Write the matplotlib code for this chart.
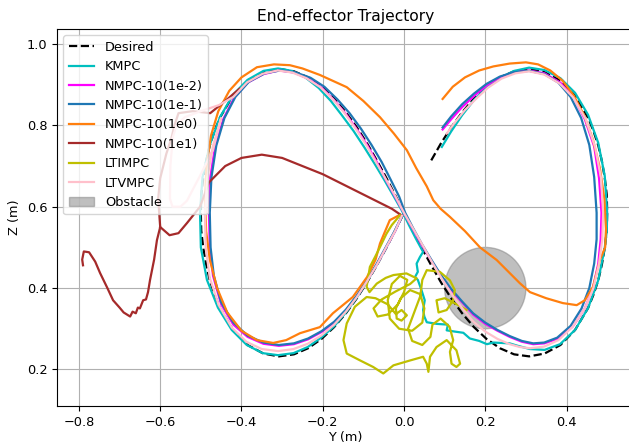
import matplotlib
matplotlib.use("Agg")
import matplotlib.pyplot as plt
from matplotlib.patches import Circle

plt.rcParams['font.size'] = 9.3

# desired figure-eight
des_y = [0.067, 0.091, 0.116, 0.143, 0.172, 0.203, 0.236, 0.271, 0.308, 0.346, 0.385, 0.421, 0.453, 0.466, 0.478,
         0.487, 0.494, 0.499, 0.500, 0.499, 0.494, 0.487, 0.478, 0.466, 0.453, 0.421, 0.385, 0.346, 0.308, 0.271,
         0.236, 0.203, 0.172, 0.143, 0.116, 0.091, 0.067, 0.044, 0.022, 0.000,
         -0.022, -0.044, -0.067, -0.091, -0.116, -0.143, -0.172, -0.203, -0.236, -0.271, -0.308, -0.346, -0.385,
         -0.421, -0.453, -0.466, -0.478, -0.487, -0.494, -0.499, -0.500, -0.499, -0.494, -0.487, -0.478, -0.466,
         -0.453, -0.421, -0.385, -0.346, -0.308, -0.271, -0.236, -0.203, -0.172, -0.143, -0.116, -0.091, -0.067,
         -0.044, -0.022, 0.000]
des_z = [0.714, 0.756, 0.795, 0.832, 0.866, 0.895, 0.918, 0.933, 0.939, 0.931, 0.910, 0.873, 0.819, 0.787, 0.751,
         0.712, 0.671, 0.629, 0.585, 0.541, 0.499, 0.458, 0.419, 0.383, 0.351, 0.297, 0.260, 0.239, 0.232, 0.237,
         0.252, 0.275, 0.304, 0.338, 0.375, 0.414, 0.456, 0.498, 0.541, 0.585,
         0.629, 0.672, 0.714, 0.756, 0.795, 0.832, 0.866, 0.895, 0.918, 0.933, 0.939, 0.931, 0.910,
         0.873, 0.819, 0.787, 0.751, 0.712, 0.671, 0.629, 0.585, 0.541, 0.499, 0.458, 0.419, 0.383,
         0.351, 0.297, 0.260, 0.239, 0.232, 0.237, 0.252, 0.275, 0.304, 0.338, 0.375, 0.414, 0.456,
         0.498, 0.541, 0.585]

kmpc_y = [0.093, 0.116, 0.143, 0.172, 0.203, 0.236, 0.271, 0.308, 0.346, 0.385, 0.421, 0.453, 0.478, 0.494, 0.500,
          0.499, 0.494, 0.478, 0.453, 0.421, 0.384, 0.346, 0.310, 0.280, 0.260, 0.220, 0.204, 0.185, 0.162, 0.146,
          0.125, 0.105, 0.108, 0.080, 0.056, 0.050, 0.047, 0.051, 0.043, 0.034, 0.027, 0.034, 0.031, 0.039, 0.047,
          0.030, 0.012, -0.005, -0.025, -0.048, -0.072, -0.097, -0.124, -0.153, -0.180, -0.210, -0.243, -0.276,
          -0.310, -0.346, -0.385, -0.421, -0.453, -0.478, -0.496, -0.502, -0.500, -0.485, -0.458, -0.424, -0.387,
          -0.348, -0.310, -0.272, -0.237, -0.204, -0.172, -0.143, -0.116, -0.091, -0.067, -0.044, -0.022, -0.003]
kmpc_z = [0.747, 0.785, 0.825, 0.862, 0.893, 0.917, 0.934, 0.942, 0.936, 0.916, 0.880, 0.826, 0.757, 0.676, 0.585,
          0.540, 0.499, 0.419, 0.351, 0.297, 0.262, 0.248, 0.250, 0.258, 0.264, 0.266, 0.262, 0.270, 0.276, 0.290,
          0.293, 0.296, 0.310, 0.312, 0.316, 0.330, 0.346, 0.370, 0.395, 0.420, 0.427, 0.440, 0.460, 0.476, 0.489,
          0.520, 0.555, 0.590, 0.625, 0.665, 0.705, 0.745, 0.786, 0.825, 0.860, 0.892, 0.918, 0.934,
          0.940, 0.934, 0.912, 0.875, 0.820, 0.752, 0.672, 0.585, 0.500, 0.420, 0.352, 0.297, 0.260,
          0.240, 0.235, 0.240, 0.255, 0.278, 0.306, 0.340, 0.377, 0.416, 0.457, 0.499, 0.541, 0.580]

n2_y = [0.095, 0.116, 0.143, 0.172, 0.203, 0.236, 0.271, 0.308, 0.346, 0.385, 0.418, 0.445, 0.468, 0.480, 0.486,
        0.484, 0.478, 0.465, 0.445, 0.415, 0.380, 0.345, 0.318, 0.290, 0.260, 0.230, 0.200, 0.170, 0.143, 0.116,
        0.091, 0.067, 0.044, 0.022, 0.000,
        -0.022, -0.044, -0.067, -0.091, -0.116, -0.143, -0.172, -0.203, -0.236, -0.271, -0.308, -0.346, -0.385,
        -0.418, -0.445, -0.465, -0.477, -0.480, -0.478, -0.470, -0.450, -0.420, -0.385, -0.346, -0.308, -0.271,
        -0.236, -0.203, -0.172, -0.143, -0.116, -0.091, -0.067, -0.044, -0.022, -0.005]
n2_z = [0.790, 0.815, 0.845, 0.872, 0.898, 0.918, 0.930, 0.935, 0.928, 0.905, 0.868, 0.815, 0.748, 0.670, 0.585,
        0.520, 0.460, 0.400, 0.350, 0.305, 0.276, 0.264, 0.262, 0.268, 0.280, 0.295, 0.312, 0.335, 0.365, 0.395,
        0.430, 0.468, 0.505, 0.545, 0.585,
        0.625, 0.665, 0.710, 0.752, 0.790, 0.828, 0.862, 0.893, 0.915, 0.930, 0.935, 0.926, 0.905,
        0.868, 0.815, 0.748, 0.670, 0.585, 0.500, 0.430, 0.360, 0.310, 0.280, 0.263, 0.258, 0.262,
        0.274, 0.292, 0.315, 0.345, 0.380, 0.418, 0.458, 0.500, 0.540, 0.578]

n1_y = [0.095, 0.116, 0.143, 0.172, 0.203, 0.236, 0.271, 0.308, 0.346, 0.380, 0.410, 0.436, 0.456, 0.468, 0.474,
        0.474, 0.468, 0.456, 0.437, 0.410, 0.377, 0.345, 0.318, 0.290, 0.260, 0.230, 0.200, 0.170, 0.143, 0.116,
        0.091, 0.067, 0.044, 0.022, 0.003,
        -0.012, -0.032, -0.055, -0.080, -0.106, -0.134, -0.164, -0.196, -0.230, -0.266, -0.305, -0.343, -0.382,
        -0.415, -0.442, -0.462, -0.474, -0.478, -0.476, -0.468, -0.450, -0.420, -0.385, -0.346, -0.308, -0.271,
        -0.236, -0.203, -0.172, -0.143, -0.116, -0.091, -0.067, -0.044, -0.022, -0.005]
n1_z = [0.795, 0.822, 0.852, 0.878, 0.902, 0.920, 0.931, 0.934, 0.926, 0.905, 0.870, 0.818, 0.752, 0.673, 0.585,
        0.520, 0.460, 0.400, 0.350, 0.307, 0.278, 0.266, 0.264, 0.270, 0.282, 0.297, 0.315, 0.338, 0.367, 0.398,
        0.432, 0.470, 0.508, 0.548, 0.585,
        0.625, 0.665, 0.710, 0.752, 0.792, 0.830, 0.864, 0.895, 0.917, 0.930, 0.935, 0.928, 0.907,
        0.870, 0.818, 0.750, 0.672, 0.585, 0.500, 0.430, 0.365, 0.315, 0.283, 0.266, 0.260, 0.264,
        0.276, 0.294, 0.317, 0.347, 0.382, 0.420, 0.460, 0.502, 0.542, 0.578]

n0_y = [0.095, 0.120, 0.150, 0.185, 0.220, 0.260, 0.300, 0.330, 0.360, 0.390, 0.418, 0.443, 0.465, 0.482, 0.493,
        0.497, 0.495, 0.482, 0.465, 0.445, 0.425, 0.391, 0.350, 0.310, 0.285, 0.260, 0.228, 0.187, 0.150, 0.113,
        0.090, 0.072, 0.056, 0.030, 0.007, -0.025, -0.059, -0.100, -0.141, -0.207, -0.250, -0.281, -0.320, -0.362,
        -0.400, -0.430, -0.457, -0.475, -0.486, -0.490, -0.487, -0.478, -0.460, -0.435, -0.400, -0.362, -0.322,
        -0.290, -0.256, -0.207, -0.175, -0.126, -0.091, -0.070, -0.059, -0.035, -0.010]
n0_z = [0.865, 0.895, 0.918, 0.935, 0.945, 0.952, 0.955, 0.950, 0.935, 0.910, 0.873, 0.825, 0.765, 0.695, 0.620,
        0.545, 0.500, 0.469, 0.403, 0.370, 0.358, 0.363, 0.375, 0.390, 0.412, 0.437, 0.469, 0.500, 0.540, 0.575,
        0.595, 0.616, 0.650, 0.695, 0.739, 0.780, 0.820, 0.860, 0.894, 0.924, 0.940, 0.948, 0.950, 0.943,
        0.918, 0.885, 0.835, 0.775, 0.700, 0.620, 0.540, 0.470, 0.400, 0.340, 0.295, 0.272, 0.265,
        0.272, 0.289, 0.304, 0.338, 0.378, 0.427, 0.470, 0.510, 0.567, 0.580]

# NMPC-10(1e1) has two visible pieces
n10a_y = [-0.790, -0.792, -0.788, -0.775, -0.760, -0.748, -0.730, -0.716, -0.700, -0.690, -0.674, -0.668, -0.660,
          -0.655, -0.650, -0.642, -0.635, -0.630, -0.625, -0.615, -0.608, -0.600, -0.605, -0.600, -0.585, -0.572,
          -0.565, -0.555, -0.520, -0.477, -0.440, -0.405]
n10a_z = [0.456, 0.470, 0.490, 0.488, 0.465, 0.437, 0.400, 0.370, 0.352, 0.340, 0.330, 0.342, 0.338,
          0.352, 0.350, 0.370, 0.372, 0.390, 0.420, 0.470, 0.518, 0.550, 0.620, 0.670, 0.730, 0.770,
          0.800, 0.830, 0.835, 0.830, 0.860, 0.890]
n10b_y = [-0.005, -0.030, -0.060, -0.100, -0.150, -0.200, -0.250, -0.300, -0.350, -0.400, -0.440, -0.480, -0.502,
          -0.534, -0.555, -0.577, -0.600]
n10b_z = [0.578, 0.595, 0.610, 0.630, 0.655, 0.680, 0.700, 0.720, 0.728, 0.720, 0.700, 0.660, 0.600,
          0.560, 0.535, 0.530, 0.550]

lti_y = [-0.010, -0.030, -0.043, -0.059, -0.071, -0.084, -0.088, -0.092, -0.085, -0.067, -0.045, -0.026, 0.006,
         0.031, 0.015, -0.020, -0.055, -0.075, -0.065, -0.040, -0.015, 0.000, 0.008, -0.010, -0.030, -0.040, -0.035,
         -0.012, 0.020, 0.045, 0.050, 0.040, 0.015, -0.008, -0.020, -0.018, -0.006, 0.007, -0.006, -0.020, -0.040,
         -0.070, -0.092, -0.121, -0.141, -0.149, -0.141, -0.108, -0.076, -0.051, -0.026, 0.015, 0.047, 0.056, 0.060,
         0.064, 0.080, 0.105, 0.129, 0.138, 0.129, 0.117, 0.113, 0.121, 0.112, 0.090, 0.070, 0.065, 0.045, 0.020,
         0.010, 0.025, 0.040, 0.045, 0.056, 0.088, 0.113, 0.125, 0.121, 0.105, 0.085, 0.080, 0.100, 0.130, 0.154]
lti_z = [0.579, 0.555, 0.534, 0.501, 0.477, 0.452, 0.427, 0.403, 0.390, 0.411, 0.425, 0.432, 0.436,
         0.424, 0.410, 0.392, 0.372, 0.350, 0.330, 0.335, 0.360, 0.390, 0.420, 0.430, 0.410, 0.370, 0.325,
         0.300, 0.295, 0.315, 0.350, 0.385, 0.395, 0.375, 0.350, 0.325, 0.320, 0.333, 0.346, 0.336, 0.360,
         0.375, 0.378, 0.354, 0.313, 0.272, 0.239, 0.222, 0.206, 0.190, 0.210, 0.222, 0.231, 0.214, 0.194,
         0.231, 0.255, 0.272, 0.247, 0.214, 0.206, 0.214, 0.243, 0.272, 0.305, 0.325, 0.310, 0.280, 0.260, 0.270,
         0.300, 0.340, 0.380, 0.420, 0.444, 0.440, 0.419, 0.395, 0.370, 0.346, 0.340, 0.370, 0.375, 0.360, 0.346]

ltv_y = [0.105, 0.125, 0.150, 0.178, 0.207, 0.240, 0.274, 0.308, 0.345, 0.383, 0.417, 0.447, 0.470, 0.485, 0.490,
         0.488, 0.480, 0.466, 0.445, 0.415, 0.380, 0.345, 0.310, 0.285, 0.260, 0.230, 0.200, 0.170, 0.145, 0.121,
         0.095, 0.070, 0.046, 0.023, 0.000,
         -0.022, -0.045, -0.069, -0.093, -0.119, -0.146, -0.175, -0.206, -0.240, -0.275, -0.311, -0.348, -0.386,
         -0.420, -0.455, -0.500, -0.540, -0.560, -0.569, -0.575, -0.576, -0.570, -0.550, -0.534, -0.500, -0.470,
         -0.450, -0.470, -0.484, -0.490, -0.488, -0.478, -0.456, -0.424, -0.388, -0.350, -0.310, -0.272, -0.237,
         -0.204, -0.172, -0.143, -0.116, -0.091, -0.067, -0.044, -0.022, -0.005]
ltv_z = [0.780, 0.807, 0.838, 0.866, 0.893, 0.915, 0.928, 0.933, 0.925, 0.903, 0.868, 0.815, 0.748, 0.670, 0.585,
         0.520, 0.460, 0.400, 0.350, 0.305, 0.272, 0.256, 0.252, 0.255, 0.262, 0.275, 0.293, 0.318, 0.348, 0.380,
         0.420, 0.462, 0.505, 0.545, 0.585,
         0.627, 0.668, 0.710, 0.752, 0.792, 0.830, 0.864, 0.894, 0.916, 0.930, 0.935, 0.927, 0.906,
         0.870, 0.850, 0.835, 0.820, 0.800, 0.771, 0.700, 0.620, 0.600, 0.600, 0.615, 0.680, 0.740,
         0.818, 0.750, 0.672, 0.585, 0.500, 0.425, 0.358, 0.303, 0.268, 0.250, 0.245, 0.250, 0.263,
         0.283, 0.310, 0.342, 0.378, 0.417, 0.457, 0.500, 0.540, 0.578]

obs_center = (0.2, 0.4)
obs_radius = 0.1

fig = plt.figure(figsize=(6.29, 4.44), dpi=100)
ax = fig.add_axes([57 / 629, 38 / 444, 577 / 629, 377 / 444])

lw = 1.6
ax.plot(des_y, des_z, 'k--', lw=lw, label='Desired')
ax.plot(kmpc_y, kmpc_z, color='c', lw=lw, label='KMPC')
ax.plot(n2_y, n2_z, color='magenta', lw=lw, label='NMPC-10(1e-2)')
ax.plot(n1_y, n1_z, color='tab:blue', lw=lw, label='NMPC-10(1e-1)')
ax.plot(n0_y, n0_z, color='tab:orange', lw=lw, label='NMPC-10(1e0)')
ax.plot(n10a_y, n10a_z, color='brown', lw=lw, label='NMPC-10(1e1)')
ax.plot(n10b_y, n10b_z, color='brown', lw=lw)
ax.plot(lti_y, lti_z, color='y', lw=lw, label='LTIMPC')
ax.plot(ltv_y, ltv_z, color='pink', lw=lw, label='LTVMPC')
ax.add_patch(Circle(obs_center, obs_radius, color='gray', alpha=0.5, zorder=1, label='Obstacle'))

ax.set_xlim(-0.854, 0.566)
ax.set_ylim(0.110, 1.037)
ax.set_xticks([-0.8, -0.6, -0.4, -0.2, 0.0, 0.2, 0.4])
ax.set_xlabel('Y (m)', labelpad=1.5)
ax.set_ylabel('Z (m)')
ax.set_title('End-effector Trajectory')
ax.grid(True)
ax.legend(loc='upper left')

fig.savefig('out.png', dpi=100)
